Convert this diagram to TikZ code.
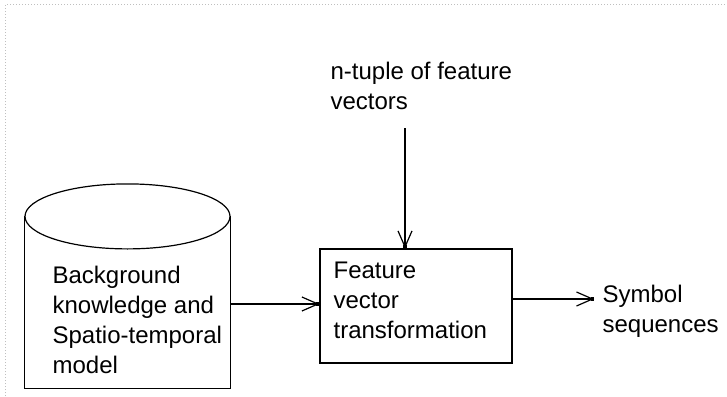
\documentclass[tikz,border=0pt]{standalone}
\usepackage{fontspec}
\setmainfont{Liberation Sans}
\usetikzlibrary{arrows.meta,calc}
\begin{document}
\begin{tikzpicture}[x=1pt,y=-1pt,
  line width=1.2pt,
  lbl/.style={font=\fontsize{24}{30}\selectfont, inner sep=0pt, align=left, anchor=base west},
  arr/.style={line width=1.2pt, -{Straight Barb[length=16pt,width=14pt,line width=1.2pt,sep=-3pt]Square[length=3pt,width=4pt]}},
  frame/.style={draw=black!25, line width=1pt, dotted}
]
\useasboundingbox (0,0) rectangle (727,396);
% scan frame
\draw[frame] (5,396) -- (5,5) -- (727,5);

% cylinder (flat bottom)
\node[minimum width=205pt, minimum height=171pt, inner sep=0pt] (bg) at (127.5,302.5) {};
\draw (bg.north west) -- (bg.south west) -- (bg.south east) -- (bg.north east);
\draw (bg.north) ellipse [x radius=102.5, y radius=32.5];
\node[lbl] (bgt) at (52,373) {Background\\knowledge and\\Spatio-temporal\\model};

% feature vector transformation box
\node[draw, minimum width=192pt, minimum height=114pt, inner sep=0pt] (fv) at (416,306) {};
\node[lbl] (fvt) at (333,338) {Feature\\vector\\transformation};

% top label
\node[lbl] (nt) at (330,109) {n-tuple of feature\\vectors};
\coordinate (vtop) at (405,128);

% output label
\node[lbl] (sym) at (602,332) {Symbol\\sequences};

% connectors
\draw[arr] (vtop) -- (vtop |- fv.north);
\coordinate (bgo) at ($(bg.east)+(0,1.5)$);
\draw[arr] (bgo) -- (bgo -| fv.west);
\coordinate (fvo) at ($(fv.east)+(0,-7)$);
\coordinate (symin) at (594,299);
\draw[arr] (fvo) -- (symin);
\end{tikzpicture}
\end{document}
